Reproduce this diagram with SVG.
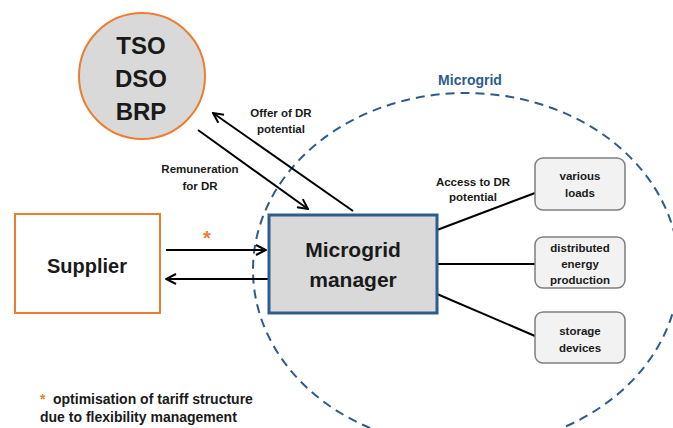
<svg xmlns="http://www.w3.org/2000/svg" width="673" height="428" viewBox="0 0 673 428">
<defs>
<marker id="arr" markerWidth="12" markerHeight="12" viewBox="0 0 12 12" refX="11" refY="6" orient="auto" markerUnits="userSpaceOnUse">
<path d="M1,1 L11,6 L1,11" fill="none" stroke="#000" stroke-width="2"/>
</marker>
</defs>
<style>
text{font-family:"Liberation Sans",Arial,sans-serif;font-weight:bold;text-anchor:middle;fill:#1a1a1a}
.big{font-size:24px}
.mid{font-size:20px}
.sm{font-size:11.5px}
.conn{stroke:#000;stroke-width:2;fill:none}
.leaf{fill:#f2f2f2;stroke:#7f7f7f;stroke-width:1.5}
</style>
<g id="microgrid">
<ellipse cx="466" cy="270" rx="213" ry="177" fill="none" stroke="#2E5B8C" stroke-width="2" stroke-dasharray="9,6"/>
<text x="470" y="85" style="font-size:14px;fill:#2E5B8C">Microgrid</text>
</g>
<g id="connectors">
<line class="conn" x1="198" y1="130" x2="308" y2="209" marker-end="url(#arr)"/>
<line class="conn" x1="353" y1="211" x2="213" y2="113" marker-end="url(#arr)"/>
<line class="conn" x1="166" y1="250" x2="266" y2="250" marker-end="url(#arr)"/>
<line class="conn" x1="268" y1="279" x2="166" y2="279" marker-end="url(#arr)"/>
<line class="conn" x1="437" y1="230" x2="535" y2="193"/>
<line class="conn" x1="437" y1="264" x2="535" y2="264"/>
<line class="conn" x1="437" y1="294" x2="535" y2="336"/>
<text class="sm" x="281" y="117">Offer of DR</text>
<text class="sm" x="281" y="133">potential</text>
<text class="sm" x="200" y="173">Remuneration</text>
<text class="sm" x="200" y="190">for DR</text>
<text class="sm" x="473" y="186">Access to DR</text>
<text class="sm" x="473" y="201">potential</text>
<text x="207" y="245" style="font-size:20px;fill:#ED7D31">*</text>
</g>
<g id="tso">
<circle cx="142" cy="76" r="63" fill="#d9d9d9" stroke="#ED7D31" stroke-width="2"/>
<text class="big" x="141" y="54">TSO</text>
<text class="big" x="141" y="87">DSO</text>
<text class="big" x="141" y="120">BRP</text>
</g>
<g id="supplier">
<rect x="15" y="214" width="145" height="99" fill="#fff" stroke="#ED7D31" stroke-width="2"/>
<text class="mid" x="87" y="273">Supplier</text>
</g>
<g id="manager">
<rect x="269" y="215" width="168" height="98" fill="#d9d9d9" stroke="#2F5C8F" stroke-width="3"/>
<text x="353" y="257" style="font-size:21px">Microgrid</text>
<text x="353" y="287" style="font-size:21px">manager</text>
</g>
<g id="loads">
<rect class="leaf" x="535" y="158" width="90" height="52" rx="8"/>
<text class="sm" x="580" y="180">various</text>
<text class="sm" x="580" y="197">loads</text>
</g>
<g id="production">
<rect class="leaf" x="535" y="237" width="90" height="51" rx="8"/>
<text class="sm" x="580" y="252">distributed</text>
<text class="sm" x="580" y="268">energy</text>
<text class="sm" x="580" y="284">production</text>
</g>
<g id="storage">
<rect class="leaf" x="535" y="312" width="90" height="51" rx="8"/>
<text class="sm" x="580" y="335">storage</text>
<text class="sm" x="580" y="352">devices</text>
</g>
<g id="footnote">
<text x="40" y="404" style="font-size:14px;text-anchor:start;fill:#ED7D31">*</text>
<text x="53" y="404" style="font-size:14px;text-anchor:start">optimisation of tariff structure</text>
<text x="40" y="422" style="font-size:14px;text-anchor:start">due to flexibility management</text>
</g>
</svg>
